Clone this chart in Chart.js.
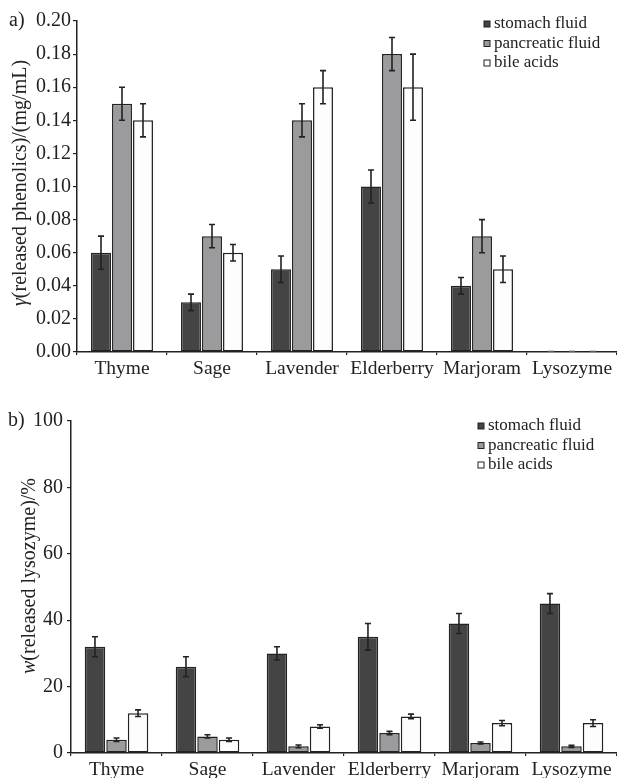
<!DOCTYPE html>
<html>
<head>
<meta charset="utf-8">
<script src="https://cdn.jsdelivr.net/npm/chart.js@4.4.0/dist/chart.umd.min.js"></script>
<style>
  html, body { margin: 0; padding: 0; background: #fff; }
  #wrap { position: relative; width: 617px; height: 778px; }
  canvas { position: absolute; left: 0; }
  #chartA { top: 0; }
  #chartB { top: 390px; }
</style>
</head>
<body>
<div id="wrap">
  <canvas id="chartA" width="617" height="390"></canvas>
  <canvas id="chartB" width="617" height="388"></canvas>
</div>
<script>
// --- DATA ---
const categories = ['Thyme', 'Sage', 'Lavender', 'Elderberry', 'Marjoram', 'Lysozyme'];
const seriesNames = ['stomach fluid', 'pancreatic fluid', 'bile acids'];

// a) released phenolics, mg/mL
const phenStomach    = [0.06, 0.03, 0.05, 0.10, 0.04, 0];
const phenPancreatic = [0.15, 0.07, 0.14, 0.18, 0.07, 0];
const phenBile       = [0.14, 0.06, 0.16, 0.16, 0.05, 0];
const phenStomachErr    = [0.01, 0.005, 0.008, 0.01, 0.005, 0];
const phenPancreaticErr = [0.01, 0.007, 0.01, 0.01, 0.01, 0];
const phenBileErr       = [0.01, 0.005, 0.01, 0.02, 0.008, 0];
const phenTicks = { min: 0, max: 0.2, step: 0.02 };

// b) released lysozyme, %
const lysoStomach    = [32, 26, 30, 35, 39, 45];
const lysoPancreatic = [4, 5, 2, 6, 3, 2];
const lysoBile       = [12, 4, 8, 11, 9, 9];
const lysoStomachErr    = [3, 3, 2, 4, 3, 3];
const lysoPancreaticErr = [0.5, 0.5, 0.4, 0.5, 0.3, 0.3];
const lysoBileErr       = [1, 0.5, 0.5, 0.7, 0.8, 1];
const lysoTicks = { min: 0, max: 100, step: 20 };

// --- STYLE ---
const FONT = "'Liberation Serif', 'DejaVu Serif', serif";
const INK = '#222222';
const fills = ['#444444', '#9b9b9d', '#fdfdfd'];

// error bars, y title, panel letter and legend
const extrasPlugin = {
  id: 'extras',
  afterDatasetsDraw(chart, args, opts) {
    const ctx = chart.ctx;
    const y = chart.scales.y;
    ctx.save();
    ctx.strokeStyle = INK;
    ctx.lineWidth = 1.6;
    chart.data.datasets.forEach((ds, i) => {
      const meta = chart.getDatasetMeta(i);
      meta.data.forEach((bar, j) => {
        const e = ds.errors[j];
        if (!e) {
          // zero-height bars show as a faint dash on the axis
          if (ds.data[j] === 0) {
            ctx.save();
            ctx.strokeStyle = '#999';
            ctx.lineWidth = 1;
            ctx.beginPath();
            ctx.moveTo(bar.x - 3, bar.y - 1); ctx.lineTo(bar.x + 3, bar.y - 1);
            ctx.stroke();
            ctx.restore();
          }
          return;
        }
        const top = y.getPixelForValue(ds.data[j] + e);
        const bot = y.getPixelForValue(ds.data[j] - e);
        ctx.beginPath();
        ctx.moveTo(bar.x, top); ctx.lineTo(bar.x, bot);
        ctx.moveTo(bar.x - 3, top); ctx.lineTo(bar.x + 3, top);
        ctx.moveTo(bar.x - 3, bot); ctx.lineTo(bar.x + 3, bot);
        ctx.stroke();
      });
    });
    ctx.restore();
  },
  afterDraw(chart, args, opts) {
    const ctx = chart.ctx;
    const area = chart.chartArea;
    ctx.save();
    ctx.fillStyle = INK;

    // panel letter
    ctx.font = '20px ' + FONT;
    ctx.textBaseline = 'middle';
    ctx.textAlign = 'left';
    ctx.fillText(opts.letter, opts.letterX, area.top);

    // rotated y title, first symbol italic
    ctx.translate(opts.titleX, opts.titleY);
    ctx.rotate(-Math.PI / 2);
    ctx.font = 'italic 20px ' + FONT;
    const w1 = ctx.measureText(opts.titleSym).width;
    ctx.font = '20px ' + FONT;
    const w2 = ctx.measureText(opts.titleRest).width;
    const x0 = -(w1 + w2) / 2;
    ctx.font = 'italic 20px ' + FONT;
    ctx.fillText(opts.titleSym, x0, 0);
    ctx.font = '20px ' + FONT;
    ctx.fillText(opts.titleRest, x0 + w1, 0);
    ctx.setTransform(1, 0, 0, 1, 0, 0);

    // legend
    ctx.font = '17px ' + FONT;
    chart.data.datasets.forEach((ds, i) => {
      const ly = opts.legendY + i * 19.5;
      ctx.fillStyle = ds.backgroundColor;
      ctx.strokeStyle = INK;
      ctx.lineWidth = 1;
      ctx.fillRect(opts.legendX, ly - 3, 6, 6);
      ctx.strokeRect(opts.legendX, ly - 3, 6, 6);
      ctx.fillStyle = INK;
      ctx.fillText(ds.label, opts.legendX + 10, ly);
    });
    ctx.restore();
  }
};

function makeChart(id, values, errors, ticks, fmt, o) {
  const datasets = values.map((v, i) => ({
    label: seriesNames[i],
    data: v,
    errors: errors[i],
    backgroundColor: fills[i],
    borderColor: INK,
    borderWidth: 1.5,
    borderSkipped: false,
    categoryPercentage: o.catPct,
    barPercentage: 0.95
  }));
  const canvas = document.getElementById(id);
  return new Chart(canvas, {
    type: 'bar',
    data: { labels: categories, datasets: datasets },
    options: {
      responsive: false,
      animation: false,
      devicePixelRatio: 1,
      layout: { padding: { top: o.top, right: 0, bottom: 0, left: 0 } },
      plugins: {
        legend: { display: false },
        tooltip: { enabled: false },
        extras: o.extras
      },
      scales: {
        x: {
          grid: { display: true, drawOnChartArea: false, drawTicks: true, tickLength: 3, color: INK, lineWidth: 1.2 },
          border: { display: true, color: INK, width: 1.5 },
          ticks: { color: INK, font: { family: FONT, size: 19.5 }, padding: 2, maxRotation: 0, autoSkip: false },
          afterFit: s => { s.height = canvas.height - o.bottom; }
        },
        y: {
          min: ticks.min,
          max: ticks.max,
          grid: { display: true, drawOnChartArea: false, drawTicks: true, tickLength: 4, color: INK, lineWidth: 1.2 },
          border: { display: true, color: INK, width: 1.5 },
          ticks: { stepSize: ticks.step, color: INK, font: { family: FONT, size: 20 }, padding: o.tickPad, callback: fmt },
          afterFit: s => { s.width = o.axisX; }
        }
      }
    },
    plugins: [extrasPlugin]
  });
}

makeChart('chartA',
  [phenStomach, phenPancreatic, phenBile],
  [phenStomachErr, phenPancreaticErr, phenBileErr],
  phenTicks, v => v.toFixed(2),
  { top: 21, bottom: 352, axisX: 77, catPct: 0.7, tickPad: 2,
    extras: { letter: 'a)', letterX: 9, titleX: 21, titleY: 183,
              titleSym: 'γ', titleRest: '(released phenolics)/(mg/mL)',
              legendX: 484, legendY: 24 } });

makeChart('chartB',
  [lysoStomach, lysoPancreatic, lysoBile],
  [lysoStomachErr, lysoPancreaticErr, lysoBileErr],
  lysoTicks, v => v,
  { top: 31, bottom: 363, axisX: 71, catPct: 0.71, tickPad: 4,
    extras: { letter: 'b)', letterX: 8, titleX: 30, titleY: 186,
              titleSym: 'w', titleRest: '(released lysozyme)/%',
              legendX: 478, legendY: 36 } });
</script>
</body>
</html>
